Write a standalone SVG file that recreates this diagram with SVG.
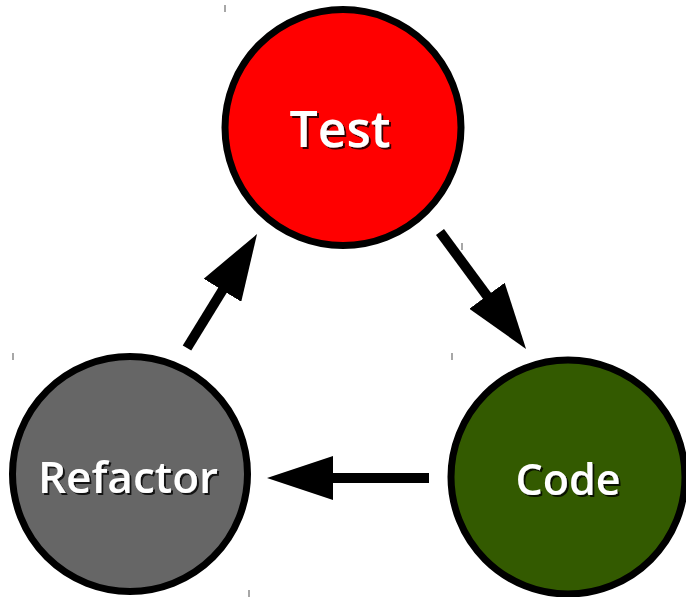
<svg xmlns="http://www.w3.org/2000/svg" width="686" height="597" viewBox="0 0 686 597">
<style>
.node{stroke:#000;stroke-width:7}
.lbl{font-family:"Open Sans","DejaVu Sans",sans-serif;font-weight:600;fill:#fff;text-anchor:middle;filter:url(#shadow)}
.conn{stroke:#000;stroke-width:10;fill:none;marker-end:url(#ah)}
.tick{stroke:#8a8a8a;stroke-width:1.5}
</style>
<defs>
<marker id="ah" markerUnits="userSpaceOnUse" markerWidth="66" markerHeight="44" viewBox="0 0 66 44" refX="5" refY="22" orient="auto">
<path d="M0,0 L66,22 L0,44 Z" fill="#000"/>
</marker>
<filter id="shadow" x="-10%" y="-20%" width="120%" height="140%">
<feDropShadow dx="2" dy="2" stdDeviation="0.6" flood-color="#000" flood-opacity="0.8"/>
</filter>
</defs>
<rect width="686" height="597" fill="#fff"/>
<g id="ticks">
<line class="tick" x1="225" y1="5" x2="225" y2="12"/>
<line class="tick" x1="462" y1="243" x2="462" y2="250"/>
<line class="tick" x1="13" y1="353" x2="13" y2="360"/>
<line class="tick" x1="452" y1="353" x2="452" y2="360"/>
<line class="tick" x1="249" y1="590" x2="249" y2="597"/>
</g>
<g id="connectors">
<path class="conn" d="M440,232 L489.9,299.8"/>
<path class="conn" d="M429,478 L328,478"/>
<path class="conn" d="M187,348 L225.1,286"/>
</g>
<g id="test">
<circle class="node" cx="343" cy="127.6" r="118" fill="#ff0000"/>
<text class="lbl" x="340" y="147" font-size="50">Test</text>
</g>
<g id="code">
<circle class="node" cx="568" cy="477" r="117" fill="#335a00"/>
<text class="lbl" x="568" y="495" font-size="43">Code</text>
</g>
<g id="refactor">
<circle class="node" cx="130" cy="474" r="117.5" fill="#666666"/>
<text class="lbl" x="128" y="493" font-size="44">Refactor</text>
</g>
</svg>
